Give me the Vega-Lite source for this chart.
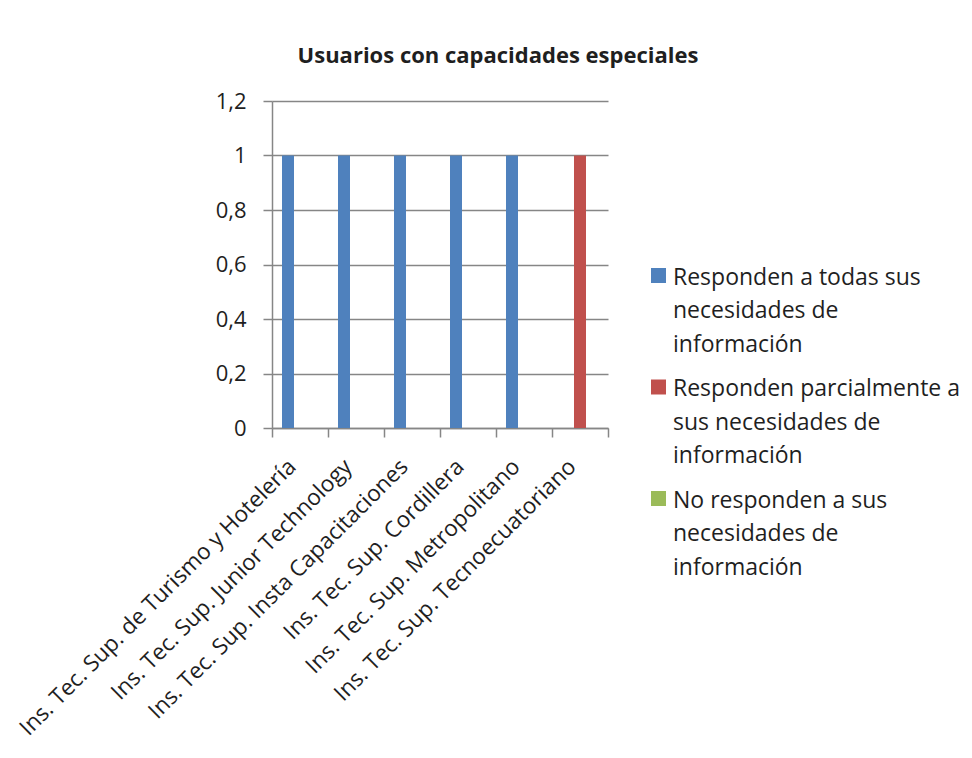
{
  "$schema": "https://vega.github.io/schema/vega-lite/v6.json",
  "width": 336,
  "height": 327,
  "autosize": "none",
  "padding": {"left": 272, "top": 101, "right": 364, "bottom": 330},
  "background": "white",
  "title": {
    "text": "Usuarios con capacidades especiales",
    "font": "Open Sans",
    "fontSize": 22,
    "fontWeight": "bold",
    "color": "#1F1F1F",
    "anchor": "middle",
    "dx": 58,
    "offset": 22
  },
  "data": {
    "values": [
      {"inst": "Ins. Tec. Sup. de Turismo y Hotelería", "serie": "Responden a todas sus necesidades de información", "valor": 1},
      {"inst": "Ins. Tec. Sup. de Turismo y Hotelería", "serie": "Responden parcialmente a sus necesidades de información", "valor": 0},
      {"inst": "Ins. Tec. Sup. de Turismo y Hotelería", "serie": "No responden a sus necesidades de información", "valor": 0},
      {"inst": "Ins. Tec. Sup. Junior Technology", "serie": "Responden a todas sus necesidades de información", "valor": 1},
      {"inst": "Ins. Tec. Sup. Junior Technology", "serie": "Responden parcialmente a sus necesidades de información", "valor": 0},
      {"inst": "Ins. Tec. Sup. Junior Technology", "serie": "No responden a sus necesidades de información", "valor": 0},
      {"inst": "Ins. Tec. Sup. Insta Capacitaciones", "serie": "Responden a todas sus necesidades de información", "valor": 1},
      {"inst": "Ins. Tec. Sup. Insta Capacitaciones", "serie": "Responden parcialmente a sus necesidades de información", "valor": 0},
      {"inst": "Ins. Tec. Sup. Insta Capacitaciones", "serie": "No responden a sus necesidades de información", "valor": 0},
      {"inst": "Ins. Tec. Sup. Cordillera", "serie": "Responden a todas sus necesidades de información", "valor": 1},
      {"inst": "Ins. Tec. Sup. Cordillera", "serie": "Responden parcialmente a sus necesidades de información", "valor": 0},
      {"inst": "Ins. Tec. Sup. Cordillera", "serie": "No responden a sus necesidades de información", "valor": 0},
      {"inst": "Ins. Tec. Sup. Metropolitano", "serie": "Responden a todas sus necesidades de información", "valor": 1},
      {"inst": "Ins. Tec. Sup. Metropolitano", "serie": "Responden parcialmente a sus necesidades de información", "valor": 0},
      {"inst": "Ins. Tec. Sup. Metropolitano", "serie": "No responden a sus necesidades de información", "valor": 0},
      {"inst": "Ins. Tec. Sup. Tecnoecuatoriano", "serie": "Responden a todas sus necesidades de información", "valor": 0},
      {"inst": "Ins. Tec. Sup. Tecnoecuatoriano", "serie": "Responden parcialmente a sus necesidades de información", "valor": 1},
      {"inst": "Ins. Tec. Sup. Tecnoecuatoriano", "serie": "No responden a sus necesidades de información", "valor": 0}
    ]
  },
  "mark": {"type": "bar"},
  "encoding": {
    "x": {
      "field": "inst",
      "type": "nominal",
      "sort": null,
      "scale": {"paddingInner": 0, "paddingOuter": 0},
      "axis": {
        "title": null,
        "tickBand": "extent",
        "domainColor": "#868686",
        "domainWidth": 1.5,
        "tickColor": "#868686",
        "tickWidth": 1.5,
        "tickSize": 9,
        "labelAngle": -45,
        "labelAlign": "right",
        "labelBaseline": "top",
        "labelFont": "Open Sans",
        "labelFontSize": 22.5,
        "labelColor": "#1F1F1F",
        "labelPadding": 18,
        "labelOffset": -16,
        "labelLimit": 600,
        "labelOverlap": false
      }
    },
    "xOffset": {
      "field": "serie",
      "type": "nominal",
      "sort": ["Responden a todas sus necesidades de información", "Responden parcialmente a sus necesidades de información", "No responden a sus necesidades de información"],
      "scale": {"paddingInner": 0, "paddingOuter": 0.833}
    },
    "y": {
      "field": "valor",
      "type": "quantitative",
      "scale": {"domain": [0, 1.2], "nice": false},
      "axis": {
        "title": null,
        "values": [0, 0.2, 0.4, 0.6, 0.8, 1, 1.2],
        "labelExpr": "replace(format(datum.value, '.1~f'), '.', ',')",
        "grid": true,
        "gridColor": "#868686",
        "gridWidth": 1.5,
        "domainColor": "#868686",
        "domainWidth": 1.5,
        "tickColor": "#868686",
        "tickWidth": 1.5,
        "tickSize": 9,
        "labelPadding": 17,
        "labelFont": "Open Sans",
        "labelFontSize": 22,
        "labelColor": "#1F1F1F"
      }
    },
    "color": {
      "field": "serie",
      "type": "nominal",
      "scale": {
        "domain": ["Responden a todas sus necesidades de información", "Responden parcialmente a sus necesidades de información", "No responden a sus necesidades de información"],
        "range": ["#4F81BD", "#C0504D", "#9BBB59"]
      },
      "legend": {
        "title": null,
        "orient": "none",
        "legendX": 375,
        "legendY": 163,
        "symbolType": "square",
        "symbolSize": 225,
        "symbolStrokeWidth": 0,
        "labelFont": "Open Sans",
        "labelFontSize": 23,
        "labelColor": "#1F1F1F",
        "labelBaseline": "top",
        "labelOffset": 3,
        "labelLimit": 0,
        "rowPadding": 18.5,
        "encode": {"labels": {"update": {"dy": {"value": -9}}}},
        "labelExpr": "datum.label == 'Responden a todas sus necesidades de información' ? ['Responden a todas sus', 'necesidades de', 'información'] : datum.label == 'Responden parcialmente a sus necesidades de información' ? ['Responden parcialmente a', 'sus necesidades de', 'información'] : ['No responden a sus', 'necesidades de', 'información']"
      }
    }
  },
  "config": {
    "view": {"stroke": null},
    "style": {"guide-label": {"lineHeight": 33.5}}
  }
}
